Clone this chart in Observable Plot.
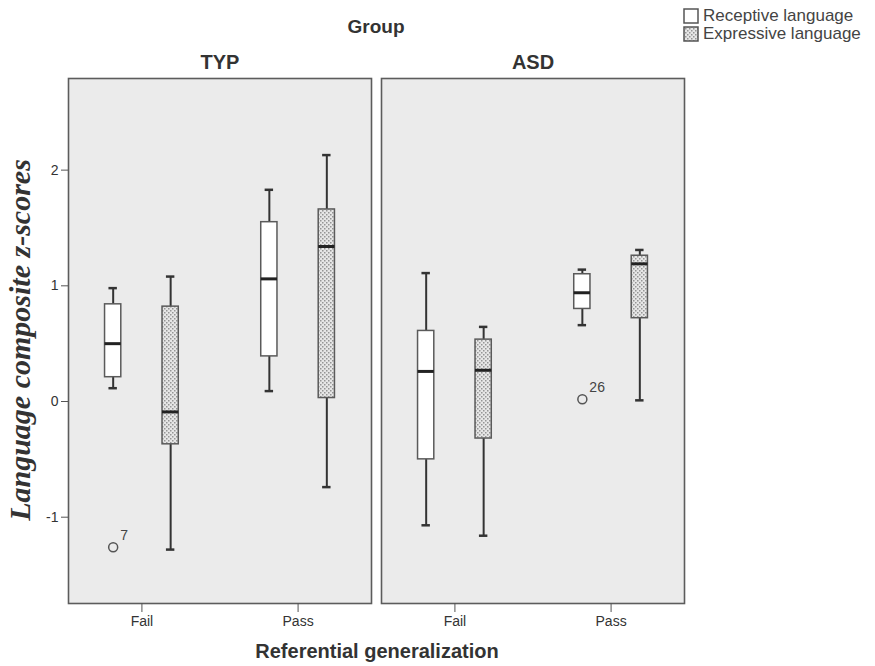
<!DOCTYPE html>
<html>
<head>
<meta charset="utf-8">
<script src="https://cdn.jsdelivr.net/npm/d3@7"></script>
<script src="https://cdn.jsdelivr.net/npm/@observablehq/plot@0.6"></script>
<style>
  body { margin: 0; background: #fff; }
  #wrap { position: relative; width: 875px; height: 666px; font-family: "Liberation Sans", Arial, sans-serif; color: #333; }
  #wrap svg { position: absolute; left: 0; top: 0; }
  .ttl { position: absolute; font-weight: bold; white-space: nowrap; color: #333; }
  #ytitle { position: absolute; font-family: "Liberation Serif", "Times New Roman", serif; font-style: italic; font-weight: bold; font-size: 30px; white-space: nowrap; transform: translate(-50%, -50%) rotate(-90deg); left: 20px; top: 340px; color: #333; }
  #legend { position: absolute; left: 683px; top: 7px; font-size: 17px; color: #444; line-height: 18px; }
  #legend div { display: flex; align-items: center; height: 18px; }
  #legend svg { position: static; margin-right: 4px; }
</style>
</head>
<body>
<div id="wrap">
  <div class="ttl" id="grp" style="font-size:19px; left:376px; top:27px; transform:translate(-50%,-50%);">Group</div>
  <div class="ttl" id="xt" style="font-size:20px; left:377px; top:651px; transform:translate(-50%,-50%);">Referential generalization</div>
  <div id="ytitle">Language composite z-scores</div>
  <div id="legend"></div>
</div>
<script>
// ---- data ----
const groups       = ["TYP", "TYP", "TYP", "TYP", "ASD", "ASD", "ASD", "ASD"];
const referential  = ["Fail", "Fail", "Pass", "Pass", "Fail", "Fail", "Pass", "Pass"];
const measures     = ["Receptive", "Expressive", "Receptive", "Expressive", "Receptive", "Expressive", "Receptive", "Expressive"];
const whiskerLow   = [0.115, -1.28, 0.09, -0.74, -1.07, -1.16, 0.66, 0.01];
const quartile1    = [0.21, -0.37, 0.39, 0.03, -0.50, -0.32, 0.80, 0.72];
const medians      = [0.50, -0.09, 1.06, 1.34, 0.26, 0.27, 0.94, 1.19];
const quartile3    = [0.84, 0.82, 1.55, 1.66, 0.61, 0.535, 1.10, 1.26];
const whiskerHigh  = [0.98, 1.08, 1.83, 2.13, 1.11, 0.645, 1.14, 1.31];

const outlierGroup = ["TYP", "ASD"];
const outlierRef   = ["Fail", "Pass"];
const outlierMeas  = ["Receptive", "Receptive"];
const outlierValue = [-1.26, 0.02];
const outlierLabel = ["7", "26"];

const groupOrder   = ["TYP", "ASD"];
const refOrder     = ["Fail", "Pass"];
const measureOrder = ["Receptive", "Expressive"];
const legendLabels = ["Receptive language", "Expressive language"];
const yTicks       = [-1, 0, 1, 2];

// ---- table ----
const rows = groups.map((g, i) => ({
  group: g, ref: referential[i], measure: measures[i],
  lo: whiskerLow[i], q1: quartile1[i], med: medians[i], q3: quartile3[i], hi: whiskerHigh[i]
}));
const outliers = outlierGroup.map((g, i) => ({
  group: g, ref: outlierRef[i], measure: outlierMeas[i], value: outlierValue[i], label: outlierLabel[i]
}));

// position of a box inside a facet: referential category index +/- dodge
const dodge = 0.184, halfBox = 0.052, halfCap = 0.027;
const pos = d => refOrder.indexOf(d.ref) + (d.measure === "Receptive" ? -dodge : dodge);

const ink = "#333";
const chart = Plot.plot({
  width: 875,
  height: 666,
  marginLeft: 68,
  marginRight: 191,
  marginTop: 78,
  marginBottom: 63,
  style: { fontFamily: "'Liberation Sans', Arial, sans-serif", color: ink, background: "transparent" },
  fx: { domain: groupOrder, paddingInner: 0.033, paddingOuter: 0, label: null },
  x: { domain: [-0.47, 1.47], label: null },
  y: { domain: [-1.746, 2.792], label: null },
  color: { domain: measureOrder, range: ["#ffffff", "url(#dots)"] },
  marks: [
    Plot.frame({ fill: "#ebebeb", stroke: "#5c5c5c", strokeWidth: 1.6 }),
    Plot.axisY({ ticks: yTicks, tickFormat: d => String(d), tickSize: 7, tickPadding: 3, fontSize: 14, label: null, stroke: "#555" }),
    Plot.axisX({ ticks: [0, 1], tickFormat: d => refOrder[d], tickSize: 9, tickPadding: 4, fontSize: 14, label: null, stroke: "#555" }),
    Plot.axisFx({ anchor: "top", tickSize: 0, tickPadding: 10, fontSize: 20, fontWeight: "bold", label: null }),
    // whiskers
    Plot.ruleX(rows, { fx: "group", x: pos, y1: "lo", y2: "q1", stroke: ink, strokeWidth: 2 }),
    Plot.ruleX(rows, { fx: "group", x: pos, y1: "q3", y2: "hi", stroke: ink, strokeWidth: 2 }),
    // whisker caps
    Plot.ruleY(rows, { fx: "group", y: "lo", x1: d => pos(d) - halfCap, x2: d => pos(d) + halfCap, stroke: ink, strokeWidth: 2.5 }),
    Plot.ruleY(rows, { fx: "group", y: "hi", x1: d => pos(d) - halfCap, x2: d => pos(d) + halfCap, stroke: ink, strokeWidth: 2.5 }),
    // boxes
    Plot.rect(rows, { fx: "group", x1: d => pos(d) - halfBox, x2: d => pos(d) + halfBox, y1: "q1", y2: "q3", fill: "measure", stroke: "#5a5a5a", strokeWidth: 1.5 }),
    // medians
    Plot.ruleY(rows, { fx: "group", y: "med", x1: d => pos(d) - halfBox, x2: d => pos(d) + halfBox, stroke: "#222", strokeWidth: 3 }),
    // outliers
    Plot.dot(outliers, { fx: "group", x: pos, y: "value", r: 4.5, stroke: "#555", strokeWidth: 1.5, fill: "none" }),
    Plot.text(outliers, { fx: "group", x: pos, y: "value", text: "label", dx: 7, dy: -12, textAnchor: "start", fontSize: 14, fill: "#444" })
  ]
});

// pattern for the expressive boxes
const defs = `<defs><pattern id="dots" width="4" height="4" patternUnits="userSpaceOnUse">
  <rect width="4" height="4" fill="#e6e6e6"/>
  <rect x="0" y="0" width="1.5" height="1.5" fill="#959595"/>
  <rect x="2" y="2" width="1.5" height="1.5" fill="#959595"/></pattern></defs>`;
chart.insertAdjacentHTML("afterbegin", defs);
document.getElementById("wrap").prepend(chart);

// legend
const legend = document.getElementById("legend");
measureOrder.forEach((m, i) => {
  const fill = m === "Receptive" ? "#ffffff" : "url(#dots2)";
  const row = document.createElement("div");
  row.innerHTML = `<svg width="16" height="16">${i === 1 ? `<defs><pattern id="dots2" width="4" height="4" patternUnits="userSpaceOnUse"><rect width="4" height="4" fill="#e6e6e6"/><rect width="1.5" height="1.5" fill="#959595"/><rect x="2" y="2" width="1.5" height="1.5" fill="#959595"/></pattern></defs>` : ""}<rect x="1" y="1" width="14" height="14" fill="${fill}" stroke="#555" stroke-width="1.5"/></svg><span>${legendLabels[i]}</span>`;
  legend.appendChild(row);
});
</script>
</body>
</html>
